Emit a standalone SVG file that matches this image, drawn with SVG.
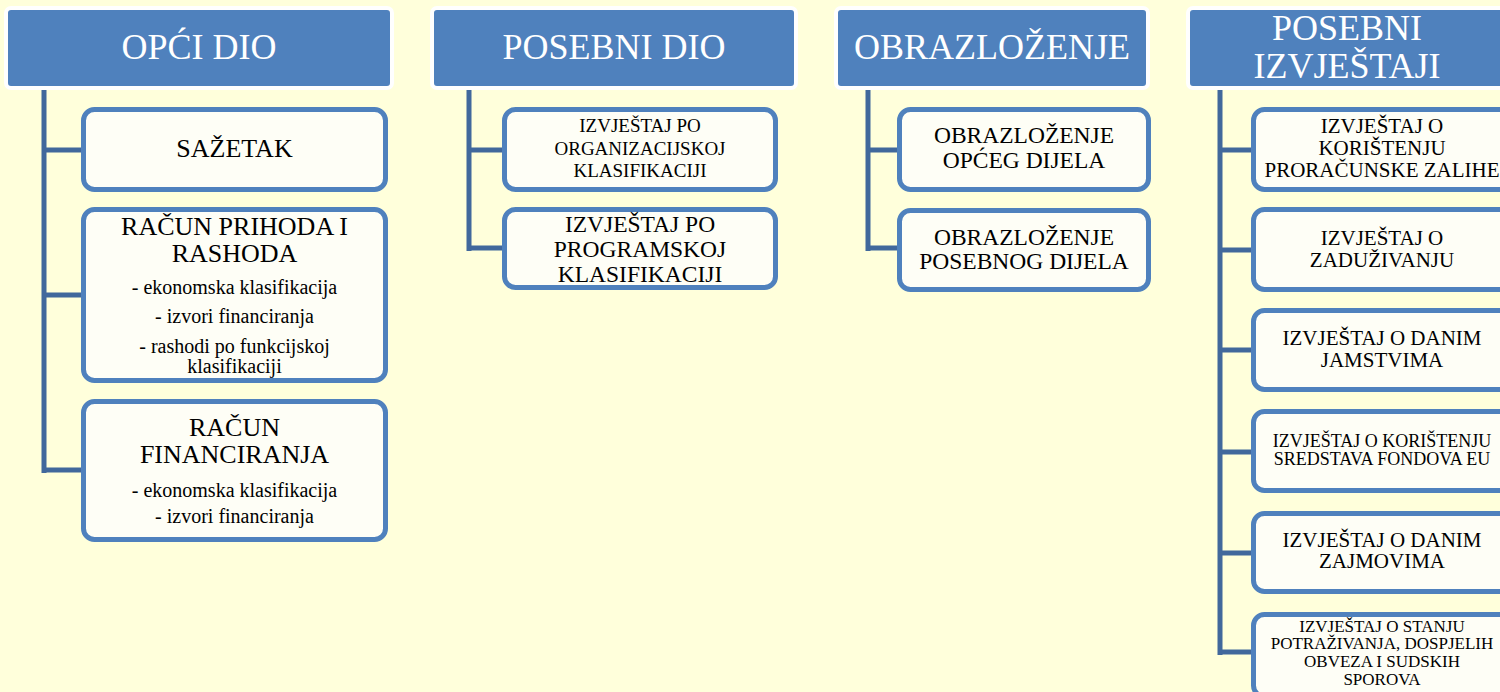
<svg xmlns="http://www.w3.org/2000/svg" width="1500" height="692" viewBox="0 0 1500 692" font-family="Liberation Serif">
<style>
.bg{fill:#FFFFDB}
.hdr{fill:#4F81BD;stroke:#FFFFFF;stroke-width:4}
.box{fill:#FEFEF6;stroke:#4F81BD;stroke-width:5}
.con{fill:none;stroke:#41689C;stroke-width:5}
.ht{fill:#FFFFFF;font-size:36px;font-family:'Liberation Serif',serif;text-anchor:middle}
.t{fill:#000000;font-family:'Liberation Serif',serif;text-anchor:middle}
</style>
<rect class="bg" x="0" y="0" width="1500" height="692"/>
<g id="connectors">
<path class="con" d="M44 88 V473 M44 150 H84 M44 295 H84 M44 470 H84"/>
<path class="con" d="M469 88 V251 M469 150 H505 M469 248 H505"/>
<path class="con" d="M868 88 V251 M868 150 H900 M868 248 H900"/>
<path class="con" d="M1220 88 V655 M1220 150 H1254 M1220 250 H1254 M1220 350 H1254 M1220 452 H1254 M1220 553 H1254 M1220 652 H1254"/>
</g>
<g id="h1"><rect class="hdr" x="6" y="8" width="386" height="80" rx="5"/><text class="ht" x="199" y="59">OPĆI DIO</text></g>
<g id="h2"><rect class="hdr" x="432" y="8" width="364" height="80" rx="5"/><text class="ht" x="614" y="59">POSEBNI DIO</text></g>
<g id="h3"><rect class="hdr" x="836" y="8" width="312" height="80" rx="5"/><text class="ht" x="992" y="59">OBRAZLOŽENJE</text></g>
<g id="h4"><rect class="hdr" x="1188" y="8" width="316" height="80" rx="5"/><text class="ht" x="1347" y="40">POSEBNI</text><text class="ht" x="1347" y="78">IZVJEŠTAJI</text></g>

<g id="n1"><rect class="box" x="83.5" y="109.5" width="302" height="80" rx="11"/><text class="t" x="234.5" y="157" font-size="26">SAŽETAK</text></g>
<g id="n2"><rect class="box" x="83.5" y="209.5" width="302" height="171" rx="11"/>
<text class="t" x="234.5" y="235" font-size="26">RAČUN PRIHODA I</text>
<text class="t" x="234.5" y="262" font-size="26">RASHODA</text>
<text class="t" x="234.5" y="294" font-size="20">- ekonomska klasifikacija</text>
<text class="t" x="234.5" y="323" font-size="20">- izvori financiranja</text>
<text class="t" x="234.5" y="353" font-size="20">- rashodi po funkcijskoj</text>
<text class="t" x="234.5" y="373" font-size="20">klasifikaciji</text></g>
<g id="n3"><rect class="box" x="83.5" y="401.5" width="302" height="138" rx="11"/>
<text class="t" x="234.5" y="436" font-size="26">RAČUN</text>
<text class="t" x="234.5" y="463" font-size="26">FINANCIRANJA</text>
<text class="t" x="234.5" y="497" font-size="20">- ekonomska klasifikacija</text>
<text class="t" x="234.5" y="523" font-size="20">- izvori financiranja</text></g>

<g id="n4"><rect class="box" x="504.5" y="109.5" width="271" height="80" rx="11"/>
<text class="t" x="640" y="132" font-size="19">IZVJEŠTAJ PO</text>
<text class="t" x="640" y="155" font-size="19">ORGANIZACIJSKOJ</text>
<text class="t" x="640" y="177" font-size="19">KLASIFIKACIJI</text></g>
<g id="n5"><rect class="box" x="504.5" y="209.5" width="271" height="78" rx="11"/>
<text class="t" x="640" y="232" font-size="23.5">IZVJEŠTAJ PO</text>
<text class="t" x="640" y="257" font-size="23.5">PROGRAMSKOJ</text>
<text class="t" x="640" y="282" font-size="23.5">KLASIFIKACIJI</text></g>

<g id="n6"><rect class="box" x="899.5" y="109.5" width="249" height="80" rx="11"/>
<text class="t" x="1024" y="143" font-size="23.5">OBRAZLOŽENJE</text>
<text class="t" x="1024" y="168" font-size="23.5">OPĆEG DIJELA</text></g>
<g id="n7"><rect class="box" x="899.5" y="210.5" width="249" height="79" rx="11"/>
<text class="t" x="1024" y="245" font-size="23.5">OBRAZLOŽENJE</text>
<text class="t" x="1024" y="269" font-size="23.5">POSEBNOG DIJELA</text></g>

<g id="n8"><rect class="box" x="1253.5" y="109.5" width="257" height="80" rx="11"/>
<text class="t" x="1382" y="133" font-size="21">IZVJEŠTAJ O</text>
<text class="t" x="1382" y="155" font-size="21">KORIŠTENJU</text>
<text class="t" x="1382" y="177" font-size="21">PRORAČUNSKE ZALIHE</text></g>
<g id="n9"><rect class="box" x="1253.5" y="209.5" width="257" height="80" rx="11"/>
<text class="t" x="1382" y="245" font-size="21">IZVJEŠTAJ O</text>
<text class="t" x="1382" y="267" font-size="21">ZADUŽIVANJU</text></g>
<g id="n10"><rect class="box" x="1253.5" y="310.5" width="257" height="79" rx="11"/>
<text class="t" x="1382" y="345" font-size="21">IZVJEŠTAJ O DANIM</text>
<text class="t" x="1382" y="367" font-size="21">JAMSTVIMA</text></g>
<g id="n11"><rect class="box" x="1253.5" y="411.5" width="257" height="79" rx="11"/>
<text class="t" x="1382" y="447" font-size="18">IZVJEŠTAJ O KORIŠTENJU</text>
<text class="t" x="1382" y="465" font-size="18">SREDSTAVA FONDOVA EU</text></g>
<g id="n12"><rect class="box" x="1253.5" y="513.5" width="257" height="78" rx="11"/>
<text class="t" x="1382" y="547" font-size="21">IZVJEŠTAJ O DANIM</text>
<text class="t" x="1382" y="568" font-size="21">ZAJMOVIMA</text></g>
<g id="n13"><rect class="box" x="1253.5" y="614.5" width="257" height="82" rx="11"/>
<text class="t" x="1382" y="632" font-size="17">IZVJEŠTAJ O STANJU</text>
<text class="t" x="1382" y="649" font-size="17">POTRAŽIVANJA, DOSPJELIH</text>
<text class="t" x="1382" y="667" font-size="17">OBVEZA I SUDSKIH</text>
<text class="t" x="1382" y="685" font-size="17">SPOROVA</text></g>
</svg>
